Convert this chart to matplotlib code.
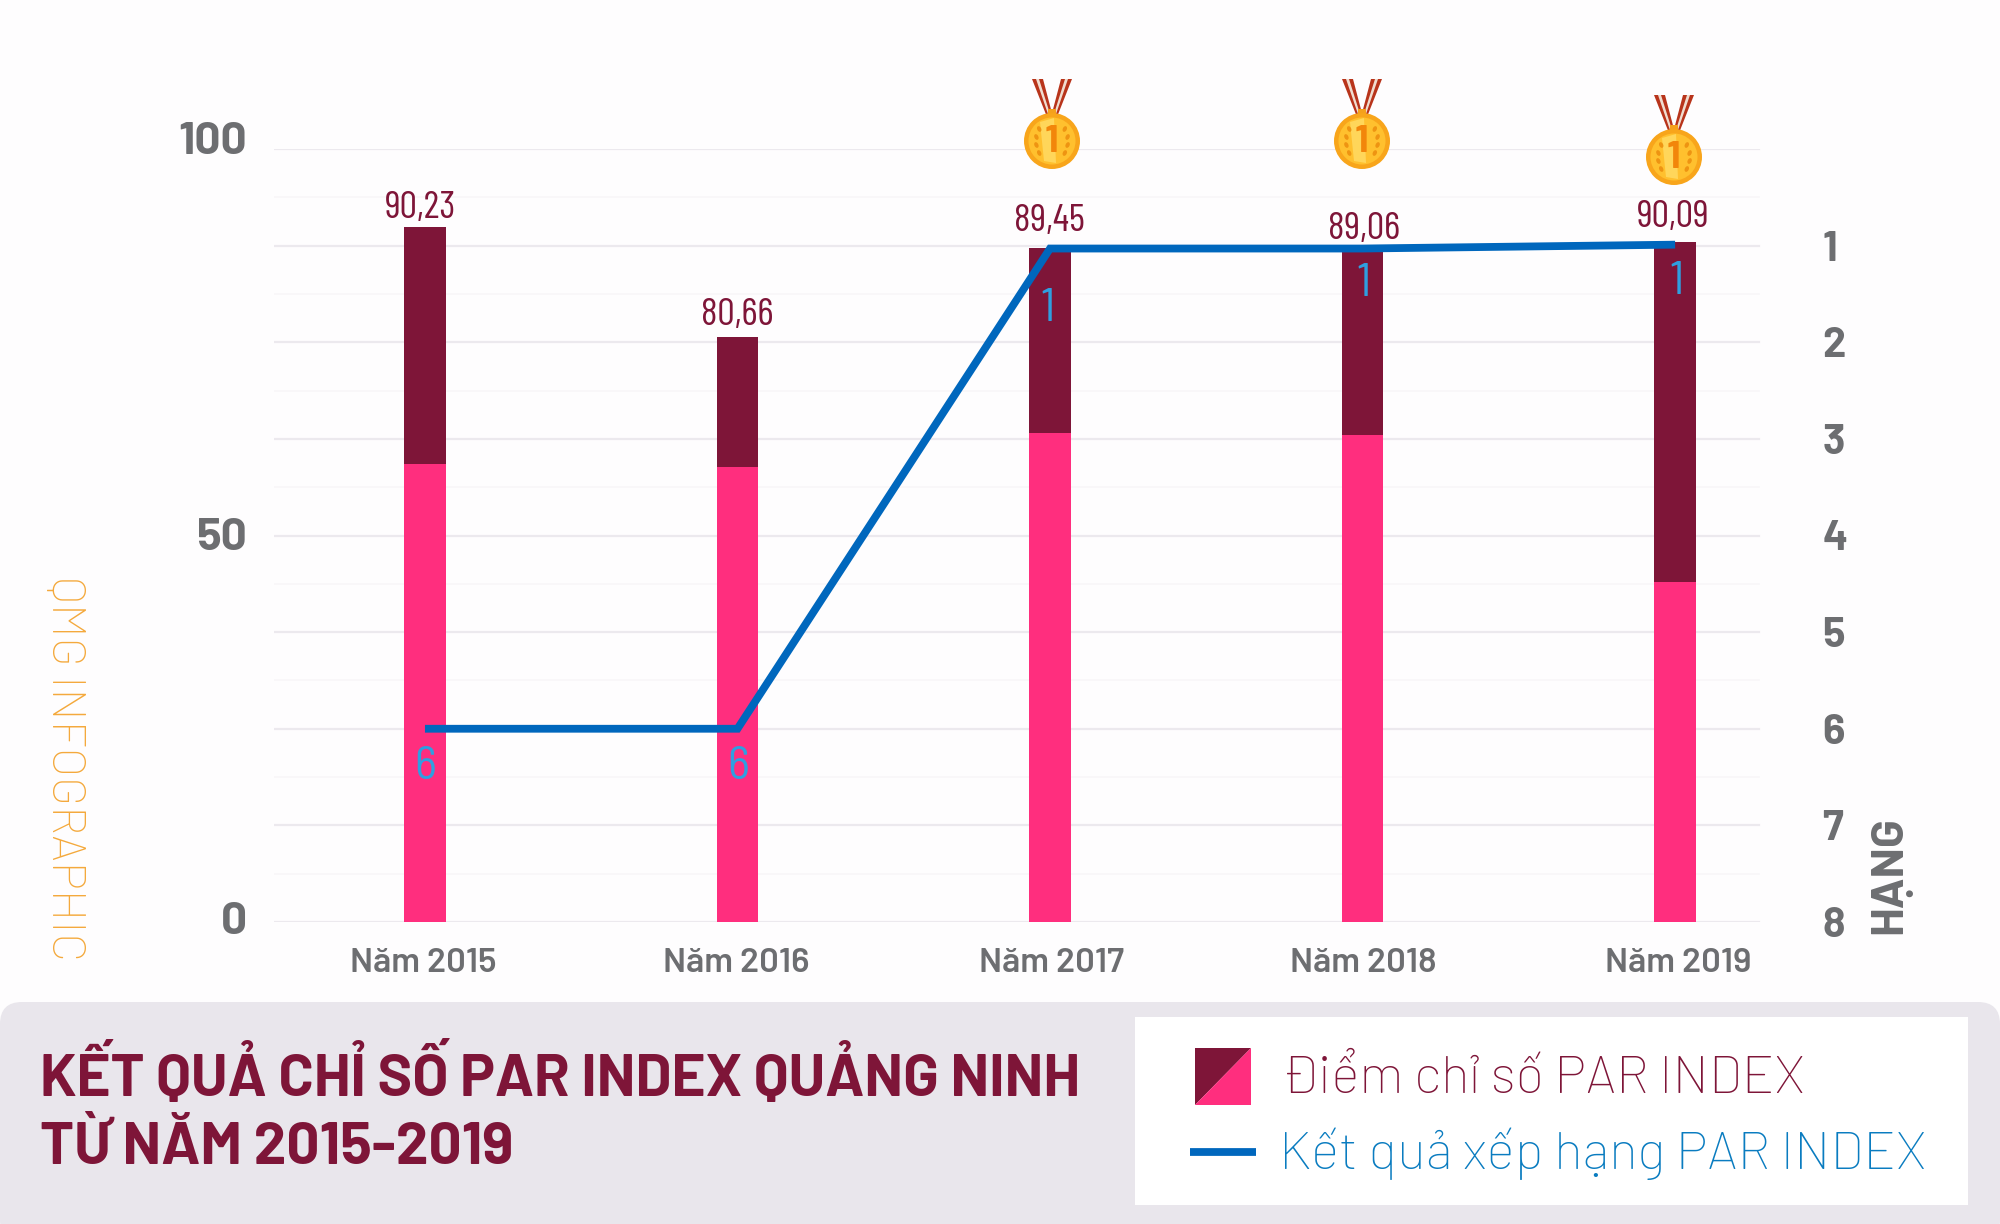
import matplotlib
matplotlib.use("Agg")
import matplotlib.pyplot as plt
from matplotlib import font_manager as fm
from matplotlib.patches import Ellipse, Polygon, FancyBboxPatch, Rectangle
from matplotlib.transforms import ScaledTranslation

# ---------- data ----------
years = ["Năm 2015", "Năm 2016", "Năm 2017", "Năm 2018", "Năm 2019"]
bar_total = [89.9, 75.7, 87.2, 86.9, 88.0]
bar_lower = [59.2, 58.9, 63.3, 63.0, 44.0]
score_labels = ["90,23", "80,66", "89,45", "89,06", "90,09"]
rank_values = [6, 6, 1.03, 1.03, 0.99]
rank_labels = ["6", "6", "1", "1", "1"]
left_ticks = [0, 50, 100]
right_ticks = [1, 2, 3, 4, 5, 6, 7, 8]
title_lines = ["KẾT QUẢ CHỈ SỐ PAR INDEX QUẢNG NINH", "TỪ NĂM 2015-2019"]
legend_bar = "Điểm chỉ số PAR INDEX"
legend_line = "Kết quả xếp hạng PAR INDEX"

# ---------- style ----------
DARK = "#7E1538"
PINK = "#FF2E7E"
BLUE = "#0067BD"
GREY = "#6D6E71"
avail = {f.name for f in fm.fontManager.ttflist}


def pick(*names):
    for n in names:
        if n in avail:
            return n
    return "DejaVu Sans"


COND = pick("Barlow Condensed", "Saira ExtraCondensed", "Roboto")
SEMI = pick("Barlow Semi Condensed", "Saira SemiCondensed", "Roboto")
WIDE = pick("Barlow", "Roboto")
W, H = 2000, 1224

fig = plt.figure(figsize=(20, 12.24), dpi=100, facecolor="#FEFDFE")
ax = fig.add_axes([274 / W, 1 - 922 / H, (1767 - 274) / W, (922 - 149) / H], facecolor="none")
xs = list(range(len(years)))
ax.set_xlim(-0.483, 4.294)
ax.set_ylim(0, 100)

for i in range(17):
    v = i * 6.25
    major = i % 2 == 0
    ax.plot([-0.483, 4.27], [v, v], color="#ECE9EE" if major else "#F8F6F9",
            lw=1.6 if major else 1.2, zorder=1)

ax.bar(xs, bar_lower, width=0.133, color=PINK, zorder=2)
ax.bar(xs, [t - l for t, l in zip(bar_total, bar_lower)], bottom=bar_lower,
       width=0.133, color=DARK, zorder=2)

for s in ax.spines.values():
    s.set_visible(False)
ax.set_xticks(xs)
ax.set_xticklabels(years, family=WIDE, fontweight="semibold", fontsize=25, color=GREY)
ax.tick_params(axis="x", length=0, pad=19)
for lab, dx in zip(ax.get_xticklabels(), [-2, -1, 1, 1, 3]):
    lab.set_transform(lab.get_transform() + ScaledTranslation(dx / 100, 0, fig.dpi_scale_trans))
ax.set_yticks([])

# left value labels sit a little above their gridlines in the original
for v, dy in zip(left_ticks, [0, -3, 7]):
    ax.annotate(str(v), xy=(0, v), xycoords=("axes fraction", "data"),
                xytext=(-27 * .72, dy * .72), textcoords="offset points",
                ha="right", va="center", family=WIDE, fontweight="bold",
                fontsize=33, color=GREY)

# score labels
lab_off = [(-4, 19), (0, 21), (-1, 26), (1, 21), (-2, 24)]
for x, t, s, o in zip(xs, bar_total, score_labels, lab_off):
    ax.annotate(s, xy=(x, t), xytext=(o[0] * .72, o[1] * .72), textcoords="offset points",
                ha="center", va="center", family=COND, fontweight="normal", fontsize=28,
                color=DARK, zorder=6)

# rank axis
ax2 = ax.twinx()
ax2.set_ylim(8, 0)
for s in ax2.spines.values():
    s.set_visible(False)
ax2.patch.set_visible(False)
ax2.set_yticks(right_ticks)
ax2.set_yticklabels([str(r) for r in right_ticks], family=WIDE, fontweight="bold",
                    fontsize=30, color=GREY)
ax2.tick_params(axis="y", length=0, pad=40)
ax2.plot(xs, rank_values, color=BLUE, lw=5.6, solid_joinstyle="miter",
         solid_capstyle="butt", zorder=5)
rank_off = [(0, -38), (1, -38), (-2, -60), (1, -35), (1, -37)]
for x, r, s, o in zip(xs, rank_values, rank_labels, rank_off):
    ax2.annotate(s, xy=(x, r), xytext=(o[0] * .72, o[1] * .72), textcoords="offset points",
                 ha="center", va="center", family=SEMI, fontsize=34, color="#2F9FE0", zorder=6)

# ---------- overlay in pixel coordinates ----------
ov = fig.add_axes([0, 0, 1, 1], facecolor="none")
ov.set_xlim(0, W)
ov.set_ylim(H, 0)
ov.axis("off")


def medal(cx, cy):
    top = cy - 62
    for sign in (-1, 1):
        ov.add_patch(Polygon([(cx + sign * 20, top), (cx + sign * 9, top), (cx - sign * 1, cy - 24), (cx + sign * 5, cy - 24)],
                             fc="#B8341B", ec="none", zorder=7))
        ov.add_patch(Polygon([(cx + sign * 16, top), (cx + sign * 13, top), (cx + sign * 1, cy - 24), (cx + sign * 3, cy - 24)],
                             fc="#F0DDD0", ec="none", zorder=8))
    ov.add_patch(Rectangle((cx - 4, cy - 32), 8, 6, fc="#F5A11C", ec="none", zorder=8))
    ov.add_patch(Ellipse((cx, cy), 56, 56, fc="#F8A51B", ec="none", zorder=9))
    ov.add_patch(Ellipse((cx, cy), 47, 47, fc="#FFC02E", ec="none", zorder=10))
    ov.add_patch(Polygon([(cx - 12, cy - 19), (cx + 2, cy - 23), (cx + 4, cy + 22), (cx - 8, cy + 20)],
                         fc="#FFD65A", ec="none", zorder=11))
    ov.text(cx, cy + 1, "1", ha="center", va="center", family=WIDE, fontweight="bold",
            fontsize=28, color="#F2860B", zorder=12)
    for sign in (-1, 1):
        for dy in (-12, -4, 4, 12):
            ov.add_patch(Ellipse((cx + sign * (17 - abs(dy) * .35), cy + dy), 4, 6,
                                 angle=sign * 25, fc="#EE9412", ec="none", zorder=12))


medal(1052, 141)
medal(1362, 141)
medal(1674, 157)

# watermark and rank title
ov.text(64, 768, "QMG INFOGRAPHIC", rotation=270, ha="center", va="center",
        family=WIDE, fontweight="light", fontsize=34, color="#F4A93C")
ov.text(1890, 875, "HẠNG", rotation=90, ha="center", va="center",
        family=WIDE, fontweight="bold", fontsize=33, color=GREY)

# bottom panel
ov.add_patch(FancyBboxPatch((0, 1002), W, 240, boxstyle="round,pad=0,rounding_size=22",
                            fc="#E9E6EC", ec="none", zorder=1))
ov.add_patch(Rectangle((1135, 1017), 833, 188, fc="white", ec="none", zorder=2))
ov.text(40, 1075, title_lines[0], ha="left", va="center", family=WIDE, fontweight="bold",
        fontsize=42, color=DARK, zorder=3)
ov.text(40, 1149, title_lines[1], ha="left", va="center", family=WIDE, fontweight="bold",
        fontsize=42, color=DARK, zorder=3)
ov.add_patch(Polygon([(1195, 1048), (1251, 1048), (1195, 1105)], fc=DARK, ec="none", zorder=3))
ov.add_patch(Polygon([(1251, 1048), (1251, 1105), (1195, 1105)], fc=PINK, ec="none", zorder=3))
ov.text(1281, 1080, legend_bar, ha="left", va="center", family=WIDE, fontweight="light",
        fontsize=38.3, color=DARK, zorder=3)
ov.plot([1190, 1256], [1152, 1152], color=BLUE, lw=5.6, solid_capstyle="butt", zorder=3)
ov.text(1279, 1154, legend_line, ha="left", va="center", family=WIDE, fontweight="light",
        fontsize=38.3, color="#0A7CC0", zorder=3)

fig.savefig("out.png", dpi=100, facecolor=fig.get_facecolor())
